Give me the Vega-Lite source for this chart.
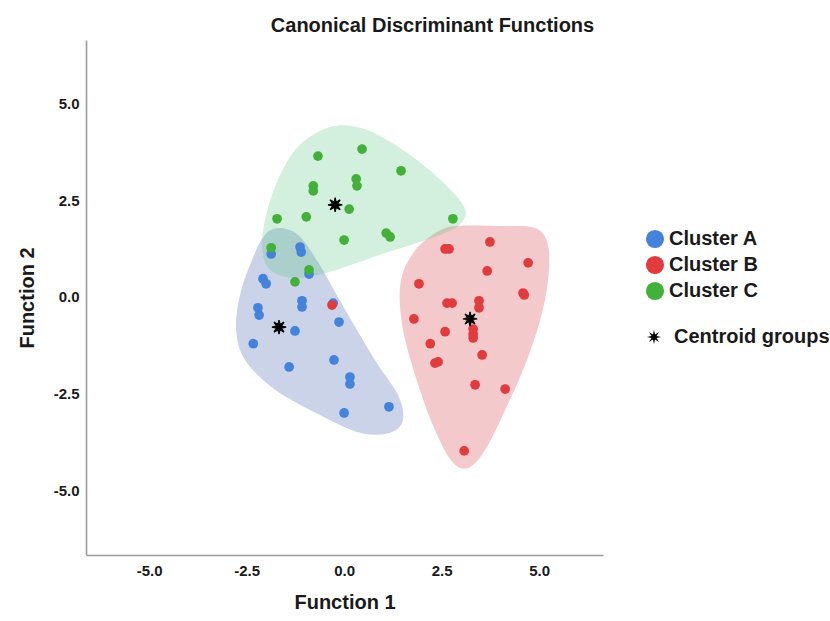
{
  "$schema": "https://vega.github.io/schema/vega-lite/v6.json",
  "width": 517,
  "height": 515,
  "autosize": {"type": "none"},
  "padding": {"left": 86, "top": 40, "right": 227, "bottom": 66},
  "background": "white",
  "title": {
    "text": "Canonical Discriminant Functions",
    "font": "Liberation Sans",
    "fontSize": 20,
    "fontWeight": "bold",
    "color": "#1a1a1a",
    "anchor": "middle",
    "dx": 88,
    "offset": 4
  },
  "config": {
    "view": {"stroke": null},
    "axis": {
      "grid": false,
      "ticks": false,
      "domainColor": "#9c9c9c",
      "domainWidth": 1.6,
      "labelFont": "Liberation Sans",
      "labelFontSize": 15,
      "labelFontWeight": "bold",
      "labelColor": "#1a1a1a",
      "labelExpr": "replace(format(datum.value, '.1f'), '\u2212', '-')",
      "titleFont": "Liberation Sans",
      "titleFontSize": 20,
      "titleFontWeight": "bold",
      "titleColor": "#1a1a1a"
    }
  },
  "datasets": {
    "points": [
      {"cluster": "Cluster A", "f1": -1.13, "f2": 1.29},
      {"cluster": "Cluster A", "f1": -1.10, "f2": 1.16},
      {"cluster": "Cluster A", "f1": -1.87, "f2": 1.11},
      {"cluster": "Cluster A", "f1": -0.90, "f2": 0.59},
      {"cluster": "Cluster A", "f1": -2.08, "f2": 0.47},
      {"cluster": "Cluster A", "f1": -2.00, "f2": 0.34},
      {"cluster": "Cluster A", "f1": -1.08, "f2": -0.10},
      {"cluster": "Cluster A", "f1": -1.08, "f2": -0.26},
      {"cluster": "Cluster A", "f1": -2.21, "f2": -0.28},
      {"cluster": "Cluster A", "f1": -2.18, "f2": -0.47},
      {"cluster": "Cluster A", "f1": -0.28, "f2": -0.16},
      {"cluster": "Cluster A", "f1": -0.13, "f2": -0.65},
      {"cluster": "Cluster A", "f1": -1.26, "f2": -0.88},
      {"cluster": "Cluster A", "f1": -2.33, "f2": -1.21},
      {"cluster": "Cluster A", "f1": -1.41, "f2": -1.81},
      {"cluster": "Cluster A", "f1": -0.26, "f2": -1.63},
      {"cluster": "Cluster A", "f1": 0.15, "f2": -2.07},
      {"cluster": "Cluster A", "f1": 0.15, "f2": -2.25},
      {"cluster": "Cluster A", "f1": 1.15, "f2": -2.84},
      {"cluster": "Cluster A", "f1": 0.00, "f2": -3.00},
      {"cluster": "Cluster B", "f1": -0.31, "f2": -0.21},
      {"cluster": "Cluster B", "f1": 3.74, "f2": 1.42},
      {"cluster": "Cluster B", "f1": 2.59, "f2": 1.24},
      {"cluster": "Cluster B", "f1": 2.69, "f2": 1.24},
      {"cluster": "Cluster B", "f1": 4.72, "f2": 0.88},
      {"cluster": "Cluster B", "f1": 3.67, "f2": 0.67},
      {"cluster": "Cluster B", "f1": 1.92, "f2": 0.34},
      {"cluster": "Cluster B", "f1": 4.59, "f2": 0.10},
      {"cluster": "Cluster B", "f1": 4.62, "f2": 0.05},
      {"cluster": "Cluster B", "f1": 2.64, "f2": -0.16},
      {"cluster": "Cluster B", "f1": 2.77, "f2": -0.16},
      {"cluster": "Cluster B", "f1": 3.46, "f2": -0.10},
      {"cluster": "Cluster B", "f1": 3.46, "f2": -0.28},
      {"cluster": "Cluster B", "f1": 1.79, "f2": -0.57},
      {"cluster": "Cluster B", "f1": 2.59, "f2": -0.90},
      {"cluster": "Cluster B", "f1": 3.31, "f2": -0.83},
      {"cluster": "Cluster B", "f1": 3.31, "f2": -0.96},
      {"cluster": "Cluster B", "f1": 3.31, "f2": -1.06},
      {"cluster": "Cluster B", "f1": 2.21, "f2": -1.21},
      {"cluster": "Cluster B", "f1": 2.33, "f2": -1.71},
      {"cluster": "Cluster B", "f1": 2.41, "f2": -1.68},
      {"cluster": "Cluster B", "f1": 3.54, "f2": -1.50},
      {"cluster": "Cluster B", "f1": 3.36, "f2": -2.27},
      {"cluster": "Cluster B", "f1": 4.13, "f2": -2.38},
      {"cluster": "Cluster B", "f1": 3.08, "f2": -3.98},
      {"cluster": "Cluster C", "f1": -0.67, "f2": 3.64},
      {"cluster": "Cluster C", "f1": 0.46, "f2": 3.82},
      {"cluster": "Cluster C", "f1": 1.46, "f2": 3.26},
      {"cluster": "Cluster C", "f1": -0.79, "f2": 2.87},
      {"cluster": "Cluster C", "f1": -0.79, "f2": 2.74},
      {"cluster": "Cluster C", "f1": 0.31, "f2": 3.05},
      {"cluster": "Cluster C", "f1": 0.33, "f2": 2.87},
      {"cluster": "Cluster C", "f1": 0.13, "f2": 2.27},
      {"cluster": "Cluster C", "f1": -1.72, "f2": 2.02},
      {"cluster": "Cluster C", "f1": -0.97, "f2": 2.07},
      {"cluster": "Cluster C", "f1": 2.79, "f2": 2.02},
      {"cluster": "Cluster C", "f1": 1.08, "f2": 1.65},
      {"cluster": "Cluster C", "f1": 1.18, "f2": 1.55},
      {"cluster": "Cluster C", "f1": 0.00, "f2": 1.47},
      {"cluster": "Cluster C", "f1": -1.87, "f2": 1.27},
      {"cluster": "Cluster C", "f1": -0.90, "f2": 0.70},
      {"cluster": "Cluster C", "f1": -1.26, "f2": 0.39}
    ],
    "centroids": [
      {"label": "Centroid groups", "cluster": "Cluster A", "f1": -1.67, "f2": -0.78},
      {"label": "Centroid groups", "cluster": "Cluster B", "f1": 3.23, "f2": -0.57},
      {"label": "Centroid groups", "cluster": "Cluster C", "f1": -0.23, "f2": 2.38}
    ],
    "hulls": [
      {"cluster": "Cluster A", "ord": 1, "f1": -1.69, "f2": 1.78},
      {"cluster": "Cluster A", "ord": 2, "f1": -1.18, "f2": 1.60},
      {"cluster": "Cluster A", "ord": 3, "f1": -0.67, "f2": 0.90},
      {"cluster": "Cluster A", "ord": 4, "f1": 0.03, "f2": -0.34},
      {"cluster": "Cluster A", "ord": 5, "f1": 0.79, "f2": -1.63},
      {"cluster": "Cluster A", "ord": 6, "f1": 1.38, "f2": -2.53},
      {"cluster": "Cluster A", "ord": 7, "f1": 1.51, "f2": -3.18},
      {"cluster": "Cluster A", "ord": 8, "f1": 1.18, "f2": -3.51},
      {"cluster": "Cluster A", "ord": 9, "f1": 0.41, "f2": -3.51},
      {"cluster": "Cluster A", "ord": 10, "f1": -0.62, "f2": -3.05},
      {"cluster": "Cluster A", "ord": 11, "f1": -1.77, "f2": -2.40},
      {"cluster": "Cluster A", "ord": 12, "f1": -2.54, "f2": -1.63},
      {"cluster": "Cluster A", "ord": 13, "f1": -2.77, "f2": -0.85},
      {"cluster": "Cluster A", "ord": 14, "f1": -2.67, "f2": 0.05},
      {"cluster": "Cluster A", "ord": 15, "f1": -2.36, "f2": 0.96},
      {"cluster": "Cluster A", "ord": 16, "f1": -2.05, "f2": 1.58},
      {"cluster": "Cluster B", "ord": 1, "f1": 2.85, "f2": 1.83},
      {"cluster": "Cluster B", "ord": 2, "f1": 4.00, "f2": 1.83},
      {"cluster": "Cluster B", "ord": 3, "f1": 4.90, "f2": 1.78},
      {"cluster": "Cluster B", "ord": 4, "f1": 5.23, "f2": 1.34},
      {"cluster": "Cluster B", "ord": 5, "f1": 5.23, "f2": 0.44},
      {"cluster": "Cluster B", "ord": 6, "f1": 5.03, "f2": -0.59},
      {"cluster": "Cluster B", "ord": 7, "f1": 4.64, "f2": -1.76},
      {"cluster": "Cluster B", "ord": 8, "f1": 4.13, "f2": -2.92},
      {"cluster": "Cluster B", "ord": 9, "f1": 3.62, "f2": -3.95},
      {"cluster": "Cluster B", "ord": 10, "f1": 3.18, "f2": -4.42},
      {"cluster": "Cluster B", "ord": 11, "f1": 2.77, "f2": -4.26},
      {"cluster": "Cluster B", "ord": 12, "f1": 2.33, "f2": -3.44},
      {"cluster": "Cluster B", "ord": 13, "f1": 1.90, "f2": -2.27},
      {"cluster": "Cluster B", "ord": 14, "f1": 1.51, "f2": -0.85},
      {"cluster": "Cluster B", "ord": 15, "f1": 1.44, "f2": 0.31},
      {"cluster": "Cluster B", "ord": 16, "f1": 1.74, "f2": 1.09},
      {"cluster": "Cluster B", "ord": 17, "f1": 2.26, "f2": 1.60},
      {"cluster": "Cluster C", "ord": 1, "f1": -0.36, "f2": 4.39},
      {"cluster": "Cluster C", "ord": 2, "f1": 0.41, "f2": 4.37},
      {"cluster": "Cluster C", "ord": 3, "f1": 1.31, "f2": 3.93},
      {"cluster": "Cluster C", "ord": 4, "f1": 2.33, "f2": 3.15},
      {"cluster": "Cluster C", "ord": 5, "f1": 3.05, "f2": 2.38},
      {"cluster": "Cluster C", "ord": 6, "f1": 3.03, "f2": 1.94},
      {"cluster": "Cluster C", "ord": 7, "f1": 2.46, "f2": 1.60},
      {"cluster": "Cluster C", "ord": 8, "f1": 0.92, "f2": 1.09},
      {"cluster": "Cluster C", "ord": 9, "f1": -0.36, "f2": 0.65},
      {"cluster": "Cluster C", "ord": 10, "f1": -1.26, "f2": 0.49},
      {"cluster": "Cluster C", "ord": 11, "f1": -1.90, "f2": 0.70},
      {"cluster": "Cluster C", "ord": 12, "f1": -2.10, "f2": 1.27},
      {"cluster": "Cluster C", "ord": 13, "f1": -2.00, "f2": 2.12},
      {"cluster": "Cluster C", "ord": 14, "f1": -1.64, "f2": 3.15},
      {"cluster": "Cluster C", "ord": 15, "f1": -1.13, "f2": 3.93}
    ]
  },
  "encoding": {
    "x": {
      "field": "f1", "type": "quantitative",
      "scale": {"domain": [-6.62, 6.64], "nice": false, "zero": false},
      "axis": {"values": [-5, -2.5, 0, 2.5, 5], "title": "Function 1", "labelPadding": 8, "titlePadding": 14}
    },
    "y": {
      "field": "f2", "type": "quantitative",
      "scale": {"domain": [-6.67, 6.64], "nice": false, "zero": false},
      "axis": {"values": [-5, -2.5, 0, 2.5, 5], "title": "Function 2", "labelPadding": 7, "titlePadding": 16}
    }
  },
  "layer": [
    {
      "data": {"name": "hulls"},
      "transform": [{"filter": "datum.cluster === 'Cluster A'"}],
      "mark": {"type": "line", "interpolate": "cardinal-closed", "fill": "#3f62ad", "fillOpacity": 0.28, "strokeOpacity": 0},
      "encoding": {"order": {"field": "ord", "type": "quantitative"}}
    },
    {
      "data": {"name": "hulls"},
      "transform": [{"filter": "datum.cluster === 'Cluster B'"}],
      "mark": {"type": "line", "interpolate": "cardinal-closed", "fill": "#dc5a62", "fillOpacity": 0.33, "strokeOpacity": 0},
      "encoding": {"order": {"field": "ord", "type": "quantitative"}}
    },
    {
      "data": {"name": "hulls"},
      "transform": [{"filter": "datum.cluster === 'Cluster C'"}],
      "mark": {"type": "line", "interpolate": "cardinal-closed", "fill": "#5fca86", "fillOpacity": 0.28, "strokeOpacity": 0},
      "encoding": {"order": {"field": "ord", "type": "quantitative"}}
    },
    {
      "data": {"name": "points"},
      "mark": {"type": "point", "shape": "circle", "filled": true, "opacity": 1, "size": 95},
      "encoding": {
        "color": {
          "field": "cluster", "type": "nominal",
          "scale": {"domain": ["Cluster A", "Cluster B", "Cluster C"], "range": ["#4383dc", "#e13b3d", "#43b03a"]},
          "legend": {
            "title": null, "orient": "none", "legendX": 559, "legendY": 189, "padding": 0,
            "symbolType": "circle", "symbolSize": 330, "symbolStrokeWidth": 0, "symbolOpacity": 1,
            "labelFont": "Liberation Sans", "labelFontSize": 20, "labelFontWeight": "bold", "labelColor": "#1a1a1a",
            "labelOffset": 4, "rowPadding": 6
          }
        }
      }
    },
    {
      "data": {"name": "centroids"},
      "mark": {"type": "point", "filled": true, "color": "black", "opacity": 1, "size": 200, "stroke": "black", "strokeWidth": 1.2},
      "encoding": {
        "shape": {
          "field": "label", "type": "nominal",
          "scale": {"domain": ["Centroid groups"], "range": ["M0,-1L0.15,-0.36L0.71,-0.71L0.36,-0.15L1,0L0.36,0.15L0.71,0.71L0.15,0.36L0,1L-0.15,0.36L-0.71,0.71L-0.36,0.15L-1,0L-0.36,-0.15L-0.71,-0.71L-0.15,-0.36Z"]},
          "legend": {
            "title": null, "orient": "none", "legendX": 558, "legendY": 287, "padding": 0,
            "symbolSize": 200, "symbolFillColor": "black", "symbolStrokeColor": "black", "symbolStrokeWidth": 1.2,
            "labelFont": "Liberation Sans", "labelFontSize": 20, "labelFontWeight": "bold", "labelColor": "#1a1a1a",
            "labelOffset": 10
          }
        }
      }
    }
  ]
}
